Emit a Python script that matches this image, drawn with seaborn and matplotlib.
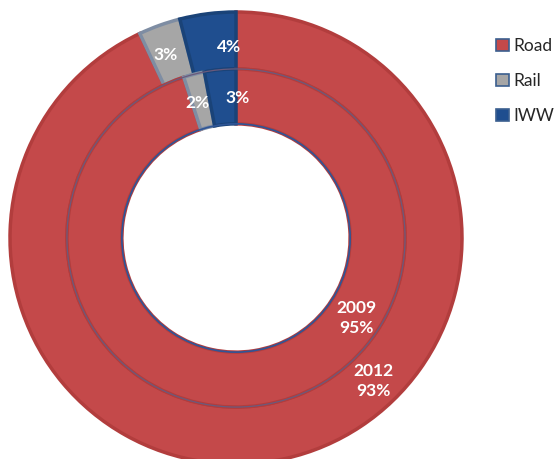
import matplotlib.pyplot as plt
import seaborn as sns
from matplotlib.patches import Circle, Patch

modes = ["Road", "Rail", "IWW"]
share_2012 = [93, 3, 4]
share_2009 = [95, 2, 3]
colors = ["#C4494A", "#A6A6A6", "#1F4E8F"]
edges = ["#B23D3D", "#7E8DA3", "#1A4378"]

sns.set_style("white")
plt.rcParams["font.family"] = ["Lato", "DejaVu Sans"]

fig = plt.figure(figsize=(5.55, 4.59), dpi=100)
ax = fig.add_axes([0, 0, 1, 1])

# centre and outer radius of the chart, in pixels
cx, cy, R = 236, 238, 226


def px(x, y):
    return (x - cx) / R, (cy - y) / R


outer, _ = ax.pie(share_2012, radius=1.0, colors=colors, startangle=90,
                  counterclock=False, wedgeprops=dict(width=0.252, linewidth=2.5))
inner, _ = ax.pie(share_2009, radius=0.748, colors=colors, startangle=90,
                  counterclock=False, wedgeprops=dict(width=0.243, linewidth=2.5))
for w, e in zip(outer, edges):
    w.set_edgecolor(e)
for w, e in zip(inner, edges):
    w.set_edgecolor(e)

# thin bluish rims between the rings and round the hole
ax.add_patch(Circle((0, 0), 0.748, fill=False, edgecolor="#6A5A7C", lw=0.9))
ax.add_patch(Circle((0, 0), 0.505, fill=False, edgecolor="#2E5597", lw=1.2))

lbl = dict(color="white", fontsize=12.5, fontweight="bold", ha="center", va="center")
ax.text(*px(229, 47), f"{share_2012[2]}%", **lbl)
ax.text(*px(166, 55), f"{share_2012[1]}%", **lbl)
ax.text(*px(197, 103), f"{share_2009[1]}%", **lbl)
ax.text(*px(238, 98), f"{share_2009[2]}%", **lbl)
ax.text(*px(356, 318), f"2009\n{share_2009[0]}%", linespacing=1.35, **lbl)
ax.text(*px(373, 381), f"2012\n{share_2012[0]}%", linespacing=1.35, **lbl)

x0, x1 = px(0, 0)[0], px(555, 0)[0]
y1, y0 = px(0, 0)[1], px(0, 459)[1]
ax.set_xlim(x0, x1)
ax.set_ylim(y0, y1)
ax.set_aspect("auto")
ax.axis("off")

handles = [Patch(facecolor=c, edgecolor="#3B5F8F", lw=1.2) for c in colors]
fig.legend(handles, modes, loc="upper left", bbox_to_anchor=(496 / 555, 1 - 38 / 459),
           frameon=False, fontsize=12.5, handlelength=0.75, handleheight=0.75,
           handletextpad=0.25, labelspacing=1.1, borderaxespad=0, borderpad=0)

fig.savefig("out.png", dpi=100)
